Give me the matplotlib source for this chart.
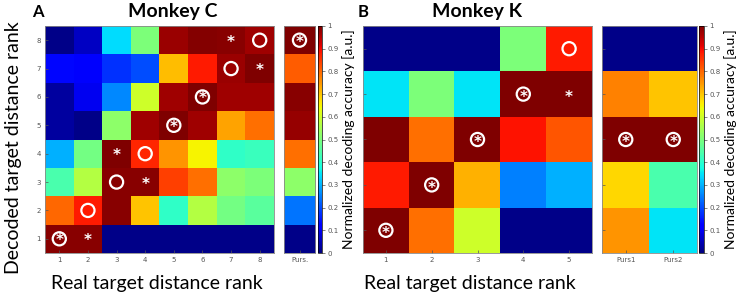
import matplotlib
matplotlib.use("Agg")
import matplotlib.pyplot as plt
import numpy as np

# decoding accuracy, rows = decoded rank 1..N (bottom to top), cols = real rank 1..N
monkeyC = [
    [0.99, 0.99, 0.01, 0.01, 0.01, 0.01, 0.01, 0.01],   # 1
    [0.80, 0.88, 0.99, 0.70, 0.41, 0.57, 0.49, 0.46],   # 2
    [0.44, 0.57, 0.99, 0.99, 0.84, 0.79, 0.52, 0.50],   # 3
    [0.30, 0.49, 1.00, 0.87, 0.75, 0.65, 0.41, 0.42],   # 4
    [0.03, 0.01, 0.52, 0.97, 1.00, 0.97, 0.735, 0.79],  # 5
    [0.03, 0.10, 0.26, 0.60, 0.97, 1.00, 0.97, 0.97],   # 6
    [0.13, 0.11, 0.175, 0.20, 0.71, 0.88, 0.975, 1.00], # 7
    [0.01, 0.06, 0.34, 0.50, 0.975, 0.995, 0.99, 0.97], # 8
]
pursC = [0.01, 0.24, 0.52, 0.79, 0.98, 0.99, 0.81, 1.00]

monkeyK = [
    [1.00, 0.79, 0.60, 0.01, 0.01],
    [0.88, 1.00, 0.72, 0.25, 0.30],
    [1.00, 0.79, 1.00, 0.89, 0.82],
    [0.35, 0.50, 0.35, 1.00, 1.00],
    [0.01, 0.01, 0.01, 0.50, 0.88],
]
pursK = [
    [0.75, 0.35],
    [0.68, 0.44],
    [1.00, 1.00],
    [0.77, 0.70],
    [0.01, 0.01],
]

# significance marks (col, row), 1-based
circC = [(1, 1), (2, 2), (3, 3), (4, 4), (5, 5), (6, 6), (7, 7), (8, 8)]
starC = [(1, 1), (2, 1), (4, 3), (3, 4), (5, 5), (6, 6), (8, 7), (7, 8)]
circPC = [(1, 8)]
starPC = [(1, 8)]
circK = [(1, 1), (2, 2), (3, 3), (4, 4), (5, 5)]
starK = [(1, 1), (2, 2), (3, 3), (4, 4), (5, 4)]
circPK = [(1, 3), (2, 3)]
starPK = [(1, 3), (2, 3)]

ranksC = [1, 2, 3, 4, 5, 6, 7, 8]
ranksK = [1, 2, 3, 4, 5]
pursLabC = ["Purs."]
pursLabK = ["Purs1", "Purs2"]
cbTicks = [0, 0.1, 0.2, 0.3, 0.4, 0.5, 0.6, 0.7, 0.8, 0.9, 1]

big = "Lato"
W, H = 737, 297
fig = plt.figure(figsize=(W / 100, H / 100), dpi=100)


def box(x0, x1, y0, y1):
    return fig.add_axes([x0 / W, 1 - y1 / H, (x1 - x0) / W, (y1 - y0) / H])


def mat(ax, data, circ, star, xlab, ylab):
    data = np.array(data)
    nr, nc = data.shape
    im = ax.imshow(data, cmap="jet", vmin=0, vmax=1, origin="lower",
                   extent=[0.5, nc + 0.5, 0.5, nr + 0.5], aspect="auto",
                   interpolation="nearest")
    for c, r in circ:
        ax.scatter(c, r, s=90, facecolors="none", edgecolors="w", linewidths=1.6)
    for c, r in star:
        ax.text(c, r - 0.07, "*", color="w", ha="center", va="center",
                fontsize=11, fontweight="bold")
    ax.set_xticks(range(1, nc + 1))
    ax.set_xticklabels(xlab)
    ax.set_yticks(range(1, nr + 1))
    if ylab is None:
        ax.set_yticklabels([])
    else:
        ax.set_yticklabels(ylab)
    ax.tick_params(direction="in", length=2, width=0.5, labelsize=5,
                   colors="#555555", pad=3)
    for s in ax.spines.values():
        s.set_color("#888888")
        s.set_linewidth(0.6)
    ax.set_xlim(0.5, nc + 0.5)
    ax.set_ylim(0.5, nr + 0.5)
    return im


def cbar(im, x0, x1):
    cax = box(x0, x1, 26, 253)
    cb = fig.colorbar(im, cax=cax, ticks=cbTicks)
    cb.ax.set_yticklabels(["0", "0.1", "0.2", "0.3", "0.4", "0.5", "0.6",
                           "0.7", "0.8", "0.9", "1"])
    cb.ax.tick_params(labelsize=5, length=2, width=0.5, colors="#555555", pad=2)
    cb.outline.set_linewidth(0.5)
    cb.set_label("Normalized decoding accuracy [a.u.]", family=big,
                 fontsize=10, labelpad=2)


# panel A
axA = box(45, 274, 26, 253)
imA = mat(axA, monkeyC, circC, starC, ranksC, ranksC)
axPA = box(284, 315, 26, 253)
mat(axPA, np.array(pursC)[:, None], circPC, starPC, pursLabC, None)
axPA.tick_params(left=False)
cbar(imA, 318, 322)

# panel B
axB = box(363, 592, 26, 253)
imB = mat(axB, monkeyK, circK, starK, ranksK, None)
axPB = box(602, 697, 26, 253)
mat(axPB, pursK, circPK, starPK, pursLabK, None)
cbar(imB, 699, 704)

fig.text(173 / W, 1 - 12 / H, "Monkey C", ha="center", va="center",
         family=big, fontsize=14, fontweight="bold")
fig.text(477 / W, 1 - 12 / H, "Monkey K", ha="center", va="center",
         family=big, fontsize=14, fontweight="bold")
fig.text(38 / W, 1 - 12 / H, "A", ha="center", va="center",
         family=big, fontsize=12, fontweight="bold")
fig.text(363 / W, 1 - 12 / H, "B", ha="center", va="center",
         family=big, fontsize=12, fontweight="bold")
fig.text(157 / W, 1 - 283 / H, "Real target distance rank", ha="center",
         va="center", family=big, fontsize=14)
fig.text(470 / W, 1 - 283 / H, "Real target distance rank", ha="center",
         va="center", family=big, fontsize=14)
fig.text(14 / W, 1 - 148 / H, "Decoded target distance rank", ha="center",
         va="center", rotation=90, family=big, fontsize=14)

fig.savefig("out.png", dpi=100)
